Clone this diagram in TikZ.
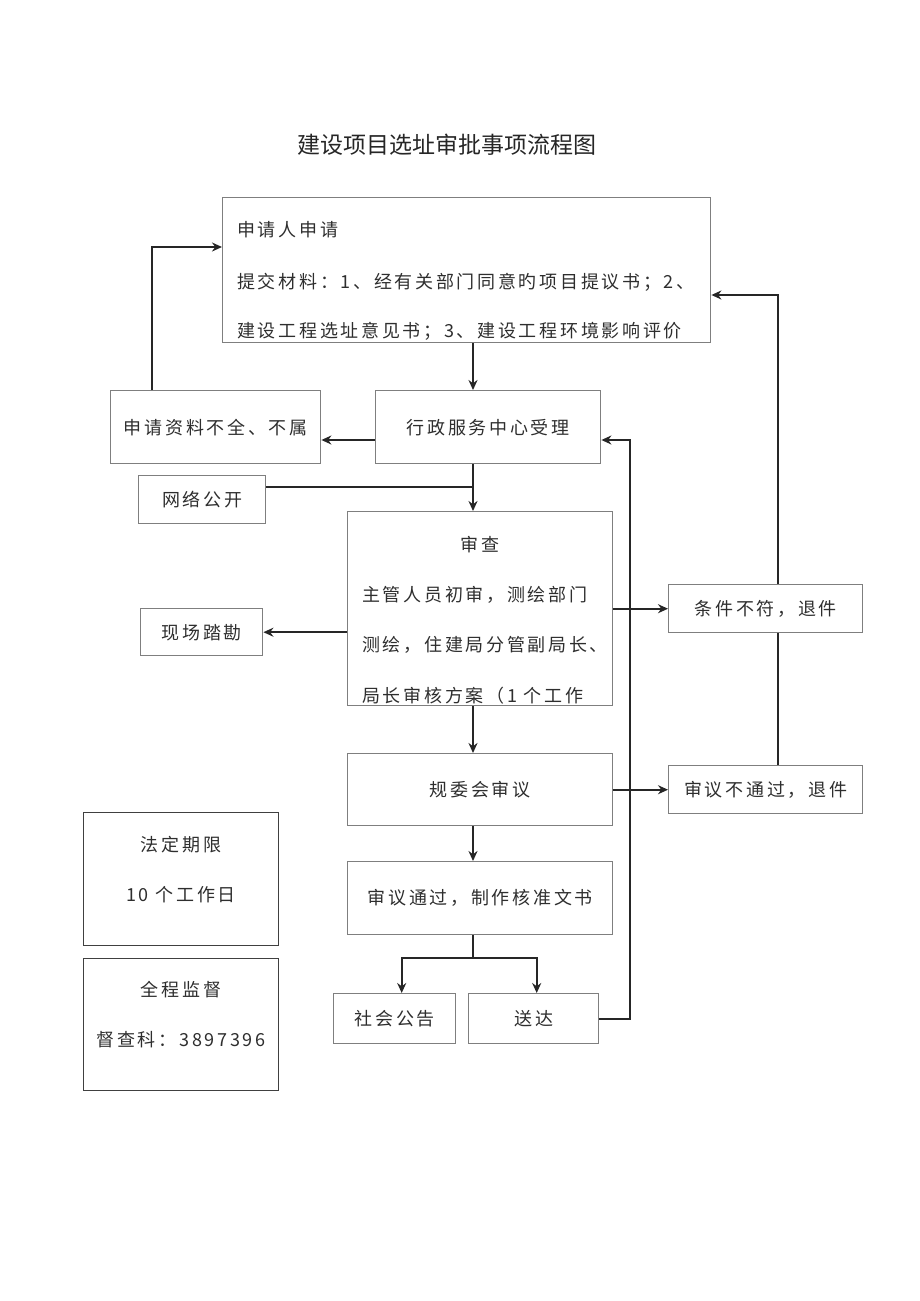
\documentclass[tikz,border=0pt]{standalone}
\usepackage{fontspec}
\newfontfamily\cjk[LetterSpace=15]{Noto Sans CJK SC}
\newfontfamily\cjktitle{Noto Sans CJK SC}
\usetikzlibrary{arrows.meta}
\definecolor{boxgray}{HTML}{7F7F7F}
\definecolor{inkgray}{HTML}{2E2E2E}

\begin{document}
\begin{tikzpicture}[x=1pt, y=-1pt,
    stepbox/.style={draw=boxgray, line width=1.4pt, anchor=north west, inner sep=0pt,
      text=inkgray, font=\cjk\fontsize{18pt}{21pt}\selectfont},
    txtline/.style={text=inkgray, inner sep=0pt, font=\cjk\fontsize{18pt}{21pt}\selectfont},
    flow/.style={line width=2pt, draw=black!85, -{Stealth[length=10pt,width=9pt]}},
    link/.style={line width=2pt, draw=black!85}]
    \useasboundingbox (0,0) rectangle (920,1301);

    % Title
    \node[font=\cjktitle\fontsize{23pt}{27pt}\selectfont, text=black!85] (title) at (447,145) {建设项目选址审批事项流程图};

    % Application box
    \node[stepbox, minimum width=488pt, minimum height=145pt] (apply) at (222,197) {};
    \node[txtline, anchor=west] (applyA) at (237,230) {申请人申请};
    \node[txtline, anchor=west] (applyB) at (237,282) {提交材料：1、经有关部门同意旳项目提议书；2、};
    \begin{scope}
        \clip (apply.north west) rectangle (apply.south east);
        \node[txtline, anchor=west] (applyC) at (237,331) {建设工程选址意见书；3、建设工程环境影响评价};
    \end{scope}

    % Acceptance row
    \node[stepbox, minimum width=225pt, minimum height=73pt] (accept) at (375,390) {行政服务中心受理};
    \node[stepbox, minimum width=210pt, minimum height=73pt] (lack) at (110,390) {申请资料不全、不属};
    \node[stepbox, minimum width=127pt, minimum height=48pt] (net) at (138,475) {网络公开};

    % Review box
    \node[stepbox, minimum width=265pt, minimum height=194pt] (review) at (347,511) {};
    \node[txtline] (reviewA) at (480,545) {审查};
    \node[txtline, anchor=west] (reviewB) at (362,595) {主管人员初审，测绘部门};
    \node[txtline, anchor=west] (reviewC) at (362,645) {测绘，住建局分管副局长、};
    \begin{scope}
        \clip (review.north west) rectangle (review.south east);
        \node[txtline, anchor=west] (reviewD) at (362,696) {局长审核方案（1 个工作};
    \end{scope}
    \node[stepbox, minimum width=122pt, minimum height=47pt] (survey) at (140,608) {现场踏勘};
    \node[stepbox, minimum width=194pt, minimum height=48pt] (nofit) at (668,584) {条件不符，退件};

    % Council
    \node[stepbox, minimum width=265pt, minimum height=72pt] (council) at (347,753) {规委会审议};
    \node[stepbox, minimum width=194pt, minimum height=48pt] (reject) at (668,765) {审议不通过，退件};
    \node[stepbox, minimum width=265pt, minimum height=73pt] (pass) at (347,861) {审议通过，制作核准文书};
    \node[stepbox, minimum width=122pt, minimum height=50pt] (notice) at (333,993) {社会公告};
    \node[stepbox, minimum width=130pt, minimum height=50pt] (deliver) at (468,993) {送达};

    % Side notes
    \node[stepbox, draw=black!75, minimum width=195pt, minimum height=133pt] (period) at (83,812) {};
    \node[txtline] (periodA) at (181,845) {法定期限};
    \node[txtline] (periodB) at (181,895) {10 个工作日};
    \node[stepbox, draw=black!75, minimum width=195pt, minimum height=132pt] (watch) at (83,958) {};
    \node[txtline] (watchA) at (181,990) {全程监督};
    \node[txtline] (watchB) at (181,1040) {督查科：3897396};

    % Helper coordinates
    \coordinate (spine) at (473,0);
    \coordinate (row1) at (0,440);
    \coordinate (backA) at (152,247);
    \coordinate (netj) at (473,487);
    \coordinate (backR) at (778,295);
    \coordinate (backB) at (630,440);
    \coordinate (branch) at (0,958);

    % Main flow
    \draw[flow] (apply.south -| spine) -- (accept.north -| spine);
    \draw[flow] (accept.west |- row1) -- (lack.east |- row1);
    \draw[flow] (lack.north -| backA) |- (apply.west |- backA);
    \draw[link] (net.east |- netj) -- (netj);
    \draw[flow] (accept.south -| spine) -- (review.north -| spine);
    \draw[flow] (review.west |- survey) -- (survey.east);
    \draw[flow] (review.east |- nofit) -- (nofit.west);
    \draw[flow] (nofit.north -| backR) |- (apply.east |- backR);
    \draw[link] (reject.north -| backR) -- (nofit.south -| backR);
    \draw[flow] (review.south -| spine) -- (council.north -| spine);
    \draw[flow] (council.east |- reject) -- (reject.west);
    \draw[flow] (council.south -| spine) -- (pass.north -| spine);
    \draw[link] (pass.south -| spine) -- (spine |- branch);
    \draw[flow] (spine |- branch) -| ([xshift=7pt]notice.north);
    \draw[flow] (spine |- branch) -| ([xshift=3pt]deliver.north);
    \draw[flow] (deliver.east) -| (backB) -- (accept.east |- backB);
\end{tikzpicture}
\end{document}
